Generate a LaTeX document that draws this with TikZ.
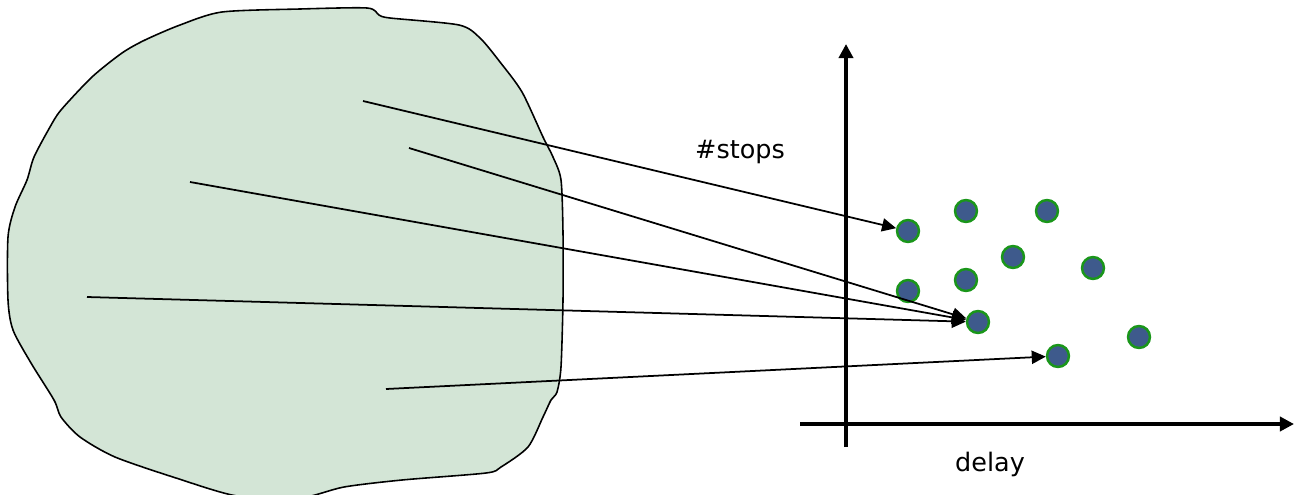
\documentclass[tikz,border=0pt]{standalone}
\usepackage{fontspec}
\setmainfont{DejaVu Sans}
\usetikzlibrary{arrows.meta}

\definecolor{blobgreen}{RGB}{211,229,214}
\definecolor{dotblue}{RGB}{62,90,140}
\definecolor{dotgreen}{RGB}{26,150,26}

\tikzset{
	dot/.style={circle, fill=dotblue, draw=dotgreen, line width=1.4pt,
		minimum size=12.5pt, inner sep=0pt},
	maplink/.style={line width=1pt, -{Triangle[length=8pt,width=7.5pt]}},
	axis/.style={line width=2.3pt, -{Triangle[length=8pt,width=8pt]}},
	axislabel/.style={font=\fontsize{14.5}{17}\selectfont}
}

\begin{document}
\begin{tikzpicture}[x=0.02cm, y=-0.02cm]
	\useasboundingbox (0,0) rectangle (1298,494);
	\clip (0,0) rectangle (1298,494);
	% the blob
	\draw[fill=blobgreen, line width=0.9pt] plot[smooth cycle, tension=0.45] coordinates {
		(222,12) (300,9) (367,8) (379,15) (390,18) (459,25) (480,38)
		(500,62) (522,92) (543,137) (553,157) (561,180) (563,233)
		(563,300) (561,367) (557,392) (551,400) (543,417) (528,447)
		(501,467) (486,473) (402,480) (344,487) (300,498) (237,496)
		(176,478) (115,457) (80,437) (61,417) (54,400) (31,363)
		(13,330) (8,300) (8,237) (15,207) (27,180) (34,157) (50,127)
		(61,110) (92,77) (122,53) (145,40) (180,25)};

	% axes
	\coordinate (ybot) at (846,447);
	\coordinate (ytop) at (846,44);
	\coordinate (xleft) at (800,424);
	\coordinate (xright) at (1294,424);
	\draw[axis] (ybot) -- (ytop);
	\draw[axis] (xleft) -- (xright);
	\node[axislabel] (stops) at (740,152) {\#stops};
	\node[axislabel] (delay) at (990,464) {delay};

	% points
	\node[dot] (p1) at (908,231) {};
	\node[dot] (p2) at (966,211) {};
	\node[dot] (p3) at (1047,211) {};
	\node[dot] (p4) at (1013,257) {};
	\node[dot] (p5) at (1093,268) {};
	\node[dot] (p6) at (966,280) {};
	\node[dot] (p7) at (908,291) {};
	\node[dot] (p8) at (978,322) {};
	\node[dot] (p9) at (1139,337) {};
	\node[dot] (p10) at (1058,356) {};

	% links from the blob
	\coordinate (s1) at (363,101);
	\coordinate (s2) at (409,148);
	\coordinate (s3) at (190,182);
	\coordinate (s4) at (87,297);
	\coordinate (s5) at (386,389);
	\draw[maplink] (s1) -- (p1);
	\draw[maplink] (s2) -- (p8);
	\draw[maplink] (s3) -- (p8);
	\draw[maplink] (s4) -- (p8);
	\draw[maplink] (s5) -- (p10);
\end{tikzpicture}
\end{document}
